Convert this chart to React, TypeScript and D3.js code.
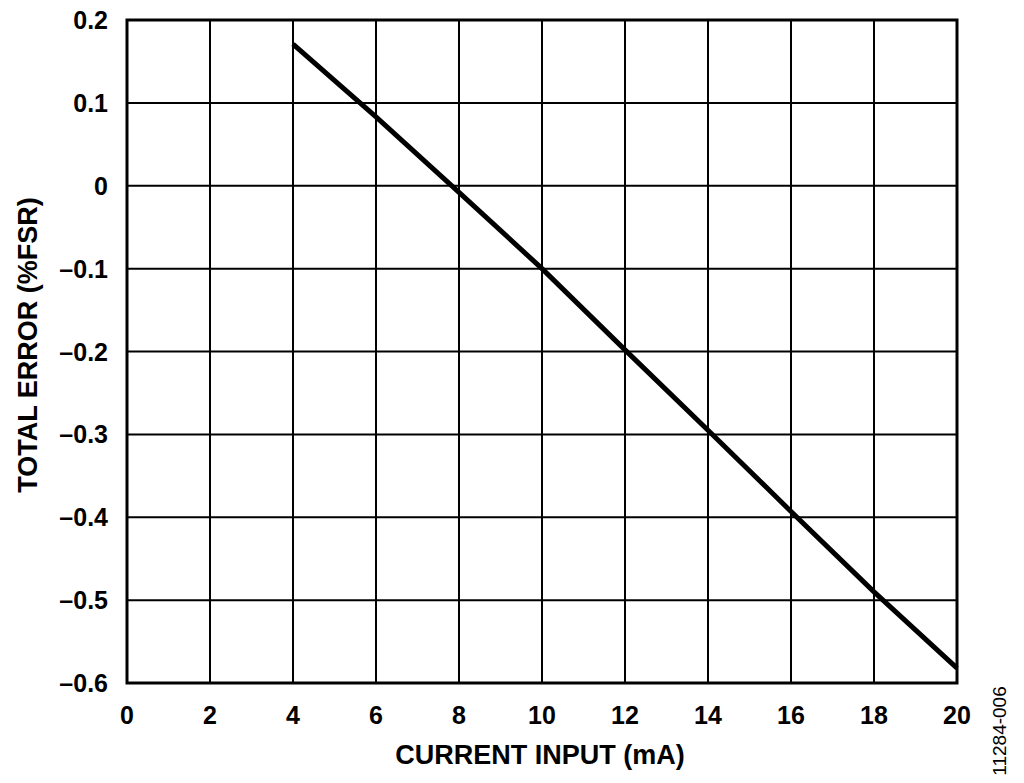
import React from "react";
import * as d3 from "d3";

const currentMA = [4, 6, 8, 10, 12, 14, 16, 18, 20];
const totalError = [0.171, 0.083, -0.008, -0.1, -0.198, -0.295, -0.393, -0.49, -0.582];
const xTicks = [0, 2, 4, 6, 8, 10, 12, 14, 16, 18, 20];
const yTicks = [0.2, 0.1, 0, -0.1, -0.2, -0.3, -0.4, -0.5, -0.6];

const W = 1024, H = 783;
const L = 127, R = 957, T = 20, B = 683;

export default function App() {
  const x = d3.scaleLinear().domain([0, 20]).range([L, R]);
  const y = d3.scaleLinear().domain([-0.6, 0.2]).range([B, T]);
  const line = d3.line<number>().x((_, i) => x(currentMA[i])).y((d) => y(d));
  const fmt = (v: number) => {
    if (Math.abs(v) < 1e-9) return "0";
    const s = Math.abs(v).toFixed(1);
    return v < 0 ? "\u2013" + s : s;
  };
  const font = "Liberation Sans, Arial, sans-serif";
  return (
    <svg width={W} height={H} style={{ position: "absolute", left: 0, top: 0, background: "#fff" }}>
      <rect width={W} height={H} fill="#fff" />
      {xTicks.map((t) => (
        <line key={"gx" + t} x1={x(t)} x2={x(t)} y1={T} y2={B} stroke="#000" strokeWidth={2} />
      ))}
      {yTicks.map((t) => (
        <line key={"gy" + t} x1={L} x2={R} y1={y(t)} y2={y(t)} stroke="#000" strokeWidth={2} />
      ))}
      <rect x={L} y={T} width={R - L} height={B - T} fill="none" stroke="#000" strokeWidth={3} />
      <path d={line(totalError) || ""} fill="none" stroke="#000" strokeWidth={5} />
      {xTicks.map((t) => (
        <text key={"tx" + t} x={x(t)} y={724} textAnchor="middle" fontFamily={font} fontWeight="bold" fontSize={25}>
          {t}
        </text>
      ))}
      {yTicks.map((t) => (
        <text key={"ty" + t} x={108} y={y(t) + 9} textAnchor="end" fontFamily={font} fontWeight="bold" fontSize={25}>
          {fmt(t)}
        </text>
      ))}
      <text x={540} y={764} textAnchor="middle" fontFamily={font} fontWeight="bold" fontSize={27}>
        CURRENT INPUT (mA)
      </text>
      <text transform={`translate(37,345) rotate(-90)`} textAnchor="middle" fontFamily={font} fontWeight="bold" fontSize={27}>
        TOTAL ERROR (%FSR)
      </text>
      <text transform={`translate(1006,731) rotate(-90)`} textAnchor="middle" fontFamily={font} fontSize={19}>
        11284-006
      </text>
    </svg>
  );
}
